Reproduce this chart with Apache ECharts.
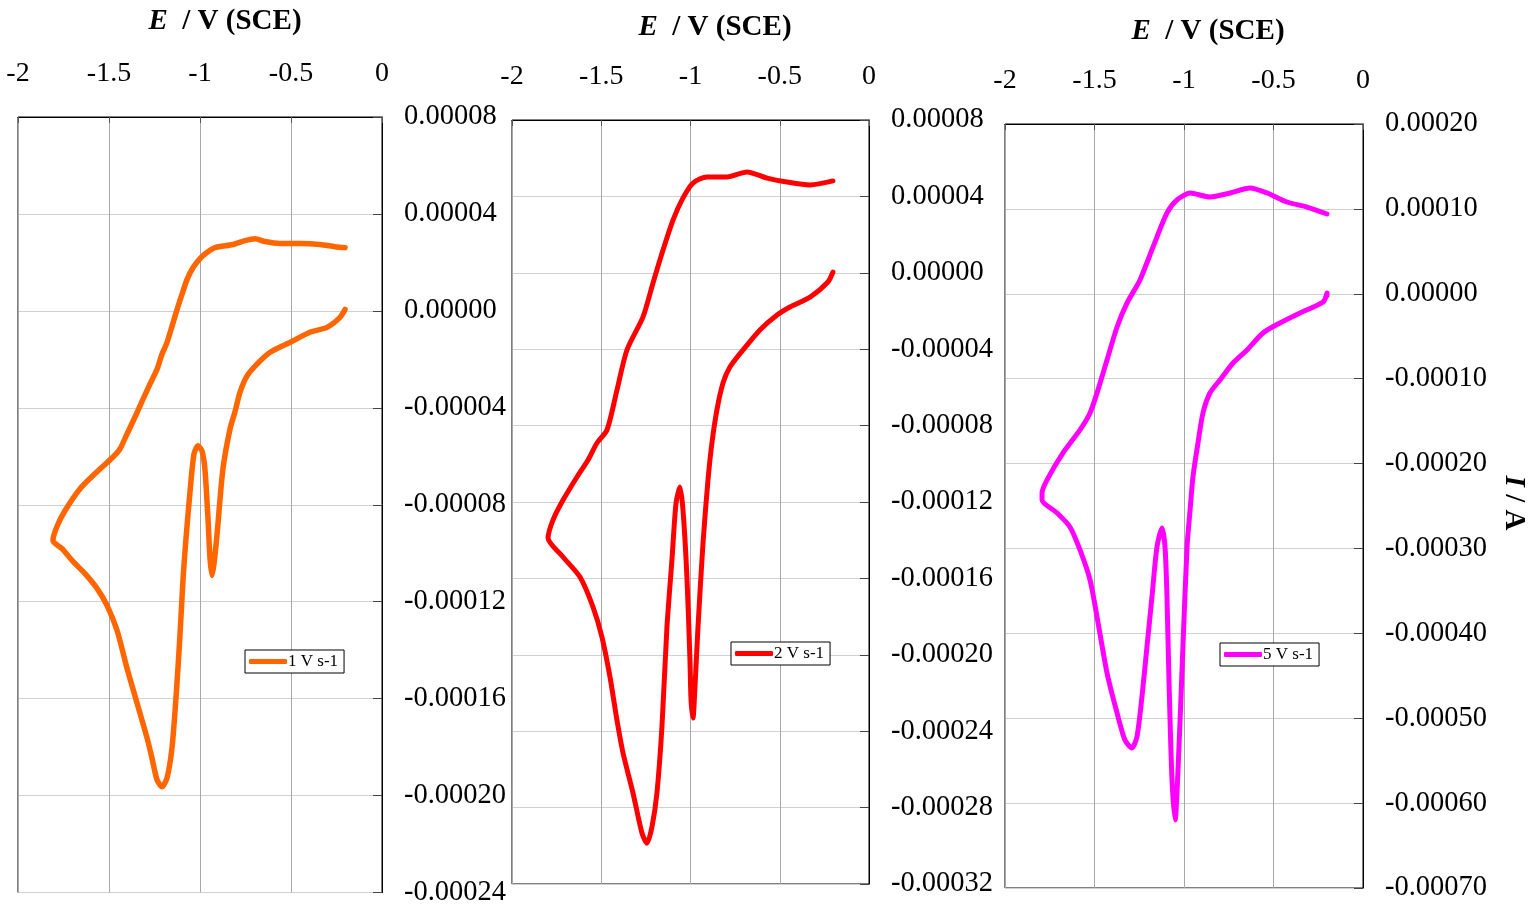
<!DOCTYPE html>
<html>
<head>
<meta charset="utf-8">
<script src="https://cdn.jsdelivr.net/npm/echarts@6/dist/echarts.min.js"></script>
<style>
html,body{margin:0;padding:0;background:#fff;}
#c{width:1540px;height:907px;}
</style>
</head>
<body>
<div id="c"></div>
<script>
// ---- data ----
const seriesNames = ['1 V s-1', '2 V s-1', '5 V s-1'];
const xTicks = [-2, -1.5, -1, -0.5, 0];

const e1 = [-0.203,-0.231,-0.302,-0.396,-0.505,-0.615,-0.687,-0.742,-0.780,-0.808,-0.835,-0.874,-0.907,-0.923,-0.934,-0.945,-0.956,-0.973,-0.989,-1.011,-1.033,-1.055,-1.077,-1.093,-1.110,-1.132,-1.154,-1.181,-1.209,-1.236,-1.264,-1.291,-1.346,-1.401,-1.456,-1.511,-1.566,-1.632,-1.698,-1.758,-1.808,-1.786,-1.742,-1.659,-1.566,-1.478,-1.440,-1.401,-1.357,-1.313,-1.275,-1.236,-1.209,-1.181,-1.154,-1.126,-1.099,-1.071,-1.038,-1.000,-0.962,-0.918,-0.819,-0.753,-0.698,-0.643,-0.560,-0.451,-0.341,-0.258,-0.203];
const i1 = [0.6e-6,-2.7e-6,-6.8e-6,-8.8e-6,-13.0e-6,-17.1e-6,-22.0e-6,-26.9e-6,-33.5e-6,-41.7e-6,-48.7e-6,-65.2e-6,-92.7e-6,-104.3e-6,-109.2e-6,-102.2e-6,-85.8e-6,-65.2e-6,-57.8e-6,-55.7e-6,-59.0e-6,-74.7e-6,-94.0e-6,-110.4e-6,-133.9e-6,-159.8e-6,-180.4e-6,-192.7e-6,-196.4e-6,-193.5e-6,-184.5e-6,-176.2e-6,-161.8e-6,-147.5e-6,-131.8e-6,-121.5e-6,-114.5e-6,-108.4e-6,-103.4e-6,-98.1e-6,-94.8e-6,-89.0e-6,-82.5e-6,-73.4e-6,-66.4e-6,-60.3e-6,-57.0e-6,-50.8e-6,-43.8e-6,-36.4e-6,-30.2e-6,-24.1e-6,-17.9e-6,-13.0e-6,-6.4e-6,0.6e-6,6.8e-6,13.0e-6,17.9e-6,21.6e-6,24.1e-6,26.1e-6,27.4e-6,29.0e-6,29.8e-6,28.6e-6,27.8e-6,27.8e-6,27.4e-6,26.5e-6,26.1e-6];

const e2 = [-0.202,-0.230,-0.330,-0.443,-0.515,-0.611,-0.706,-0.779,-0.818,-0.852,-0.880,-0.902,-0.930,-0.958,-0.975,-0.986,-0.997,-1.003,-1.020,-1.042,-1.059,-1.081,-1.104,-1.132,-1.160,-1.188,-1.216,-1.244,-1.272,-1.322,-1.378,-1.412,-1.451,-1.496,-1.546,-1.619,-1.714,-1.798,-1.770,-1.714,-1.636,-1.574,-1.524,-1.468,-1.412,-1.356,-1.266,-1.210,-1.154,-1.098,-1.042,-0.986,-0.908,-0.796,-0.683,-0.571,-0.459,-0.330,-0.202];
const i2 = [0.4e-6,-4.8e-6,-12.7e-6,-17.9e-6,-22.1e-6,-29.9e-6,-40.4e-6,-49.3e-6,-57.7e-6,-71.8e-6,-89.1e-6,-108.5e-6,-141.5e-6,-185.5e-6,-216.9e-6,-233.1e-6,-223.7e-6,-202.7e-6,-159.3e-6,-124.2e-6,-112.2e-6,-120.5e-6,-150.4e-6,-185.5e-6,-237.8e-6,-272.4e-6,-290.2e-6,-298.6e-6,-293.3e-6,-272.4e-6,-251.4e-6,-234.2e-6,-211.6e-6,-190.7e-6,-175.0e-6,-159.3e-6,-148.8e-6,-138.9e-6,-129.4e-6,-119.0e-6,-106.9e-6,-98.0e-6,-89.1e-6,-82.3e-6,-61.4e-6,-40.4e-6,-23.1e-6,-5.3e-6,11.9e-6,27.6e-6,39.2e-6,47.0e-6,50.2e-6,50.2e-6,52.8e-6,49.6e-6,47.5e-6,46.0e-6,48.1e-6];

const e3 = [-0.201,-0.201,-0.223,-0.352,-0.464,-0.559,-0.648,-0.726,-0.799,-0.855,-0.894,-0.922,-0.950,-0.966,-0.983,-1.006,-1.028,-1.050,-1.067,-1.084,-1.095,-1.106,-1.123,-1.151,-1.179,-1.207,-1.235,-1.263,-1.291,-1.330,-1.374,-1.430,-1.480,-1.525,-1.581,-1.637,-1.709,-1.793,-1.793,-1.765,-1.676,-1.581,-1.525,-1.486,-1.430,-1.374,-1.318,-1.246,-1.173,-1.095,-1.039,-0.966,-0.855,-0.743,-0.631,-0.536,-0.425,-0.313,-0.201];
const i3 = [-2.0e-6,0.9e-6,-9.7e-6,-22.6e-6,-34.4e-6,-46.2e-6,-66.2e-6,-81.5e-6,-101.5e-6,-116.9e-6,-140.4e-6,-175.8e-6,-215.8e-6,-254.7e-6,-298.3e-6,-416.1e-6,-533.9e-6,-619.9e-6,-572.7e-6,-454.9e-6,-357.2e-6,-298.3e-6,-275.9e-6,-298.3e-6,-357.2e-6,-416.1e-6,-475.0e-6,-522.1e-6,-535.0e-6,-525.6e-6,-493.8e-6,-446.7e-6,-387.8e-6,-337.1e-6,-301.8e-6,-274.7e-6,-258.2e-6,-242.9e-6,-234.7e-6,-219.3e-6,-187.5e-6,-160.4e-6,-140.4e-6,-116.9e-6,-78.0e-6,-39.1e-6,-10.8e-6,16.3e-6,55.1e-6,95.2e-6,110.5e-6,118.7e-6,114.0e-6,118.7e-6,124.6e-6,118.7e-6,108.1e-6,102.2e-6,94.0e-6];

const yRanges = [
  {min: -0.00024, max: 0.00008, interval: 0.00004},
  {min: -0.00032, max: 0.00008, interval: 0.00004},
  {min: -0.0007, max: 0.0002, interval: 0.0001}
];
const colors = ['#ff6600', '#ff0000', '#ff00ff'];

// ---- layout ----
const grids = [
  {left: 18, top: 117, width: 364, height: 778},
  {left: 512, top: 120, width: 357, height: 764},
  {left: 1005, top: 124, width: 358, height: 764}
];
const legendPos = [{left: 245, top: 650}, {left: 731, top: 642}, {left: 1220, top: 643}];
const titlePos = [{x: 225, y: 22}, {x: 715, y: 28}, {x: 1208, y: 32}];

const FONT = '"Liberation Serif","Times New Roman",serif';
const zip = (a, b) => a.map((v, k) => [v, b[k]]);
const seriesData = [zip(e1, i1), zip(e2, i2), zip(e3, i3)];

const chart = echarts.init(document.getElementById('c'));
const opt = {
  backgroundColor: '#fff',
  animation: false,
  grid: grids.map(g => Object.assign({show: true, borderColor: '#000', borderWidth: 1, backgroundColor: 'transparent'}, g)),
  xAxis: grids.map((g, k) => ({
    type: 'value', gridIndex: k, position: 'top',
    min: -2, max: 0, interval: 0.5,
    axisLine: {show: true, onZero: false, lineStyle: {color: '#000', width: 1}},
    axisTick: {show: true, inside: true, length: 6, lineStyle: {color: '#555'}},
    axisLabel: {show: true, margin: 29, color: '#000', fontFamily: FONT, fontSize: 28},
    splitLine: {show: true, lineStyle: {color: '#a8a8a8', width: 1}}
  })),
  yAxis: grids.map((g, k) => ({
    type: 'value', gridIndex: k, position: 'right',
    min: yRanges[k].min, max: yRanges[k].max, interval: yRanges[k].interval,
    axisLine: {show: true, onZero: false, lineStyle: {color: '#000', width: 1}},
    axisTick: {show: true, inside: true, length: 9, lineStyle: {color: '#444'}},
    axisLabel: {
      show: true, margin: 22, color: '#000', fontFamily: FONT, fontSize: 28.5,
      formatter: v => (Math.abs(v) < 1e-12 ? 0 : v).toFixed(5)
    },
    splitLine: {show: true, lineStyle: {color: '#d0d0d0', width: 1}}
  })),
  legend: grids.map((g, k) => ({
    data: [seriesNames[k]],
    left: legendPos[k].left, top: legendPos[k].top,
    orient: 'horizontal',
    backgroundColor: '#fff', borderColor: '#000', borderWidth: 1, borderRadius: 0,
    padding: [3, 6, 3, 4],
    icon: 'roundRect', itemWidth: 38, itemHeight: 5, itemGap: 0,
    textStyle: {fontFamily: FONT, fontSize: 17, color: '#000', padding: [0, 0, 0, -4]}
  })),
  series: seriesData.map((d, k) => ({
    name: seriesNames[k], type: 'line', xAxisIndex: k, yAxisIndex: k,
    data: d, showSymbol: false, symbol: 'none', smooth: 0.25,
    color: colors[k],
    lineStyle: {color: colors[k], width: k === 0 ? 5.5 : 5, cap: 'round', join: 'round'}
  })),
  graphic: titlePos.map(p => ({
    type: 'text', x: p.x, y: p.y,
    style: {
      text: '{i|E}{b|  / V (SCE)}',
      align: 'center', verticalAlign: 'middle',
      rich: {
        i: {fontFamily: FONT, fontSize: 29, fontWeight: 'bold', fontStyle: 'italic', fill: '#000', color: '#000'},
        b: {fontFamily: FONT, fontSize: 29, fontWeight: 'bold', fill: '#000', color: '#000'}
      }
    }
  })).concat([{
    type: 'text', x: 1513, y: 503, rotation: -Math.PI / 2,
    style: {
      text: '{i|I}{b| / A}',
      align: 'center', verticalAlign: 'middle',
      rich: {
        i: {fontFamily: FONT, fontSize: 29, fontWeight: 'bold', fontStyle: 'italic', fill: '#000', color: '#000'},
        b: {fontFamily: FONT, fontSize: 29, fontWeight: 'bold', fill: '#000', color: '#000'}
      }
    }
  }])
};
chart.setOption(opt);
</script>
</body>
</html>
